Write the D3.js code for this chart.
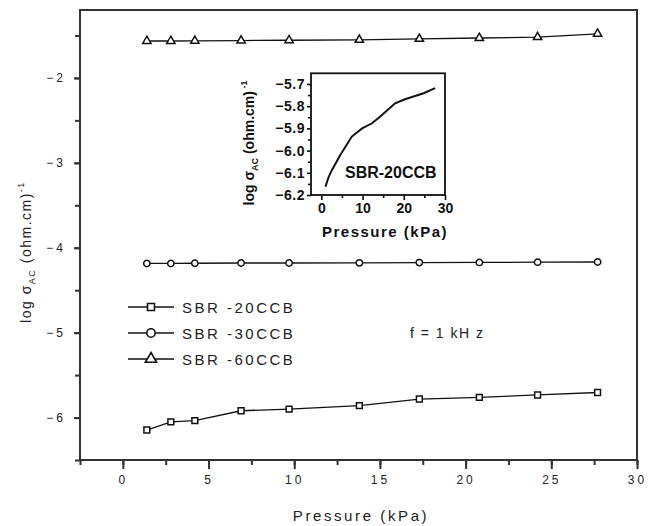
<!DOCTYPE html>
<html>
<head>
<meta charset="utf-8">
<script src="https://cdn.jsdelivr.net/npm/d3@7"></script>
<style>
  body { margin: 0; background: #fff; }
  svg { display: block; font-family: "Liberation Sans", Arial, sans-serif; }
</style>
</head>
<body>
<svg id="chart" width="649" height="526"></svg>
<script>
// ---- data ----
const pressure = [1.4, 2.8, 4.2, 6.9, 9.7, 13.8, 17.3, 20.8, 24.2, 27.7];
const sbr20 = [-6.147, -6.05, -6.037, -5.92, -5.90, -5.86, -5.782, -5.762, -5.734, -5.705];
const sbr30 = [-4.185, -4.185, -4.183, -4.18, -4.18, -4.178, -4.175, -4.173, -4.17, -4.168];
const sbr60 = [-1.565, -1.565, -1.563, -1.56, -1.556, -1.552, -1.54, -1.53, -1.52, -1.48];
const seriesNames = ["SBR -20CCB", "SBR -30CCB", "SBR -60CCB"];
const xTicks = [0, 5, 10, 15, 20, 25, 30];
const yTicks = [-6, -5, -4, -3, -2];
const insetP = [1.0, 1.8, 2.6, 4.6, 7.4, 9.9, 12.3, 14.3, 17.9, 20.3, 24.8, 27.6];
const insetS = [-6.163, -6.118, -6.087, -6.02, -5.937, -5.90, -5.877, -5.847, -5.787, -5.769, -5.742, -5.719];
const insetXTicks = [0, 10, 20, 30];
const insetYTicks = [-6.2, -6.1, -6.0, -5.9, -5.8, -5.7];

const svg = d3.select("#chart");
const ink = "#222";

// ---- main scales ----
const x = d3.scaleLinear().domain([-2.5, 30]).range([80, 637]);
const y = d3.scaleLinear().domain([-6.5, -1.2]).range([460, 10]);

// frame
svg.append("rect").attr("x", x.range()[0]).attr("y", y.range()[1])
  .attr("width", x.range()[1] - x.range()[0]).attr("height", y.range()[0] - y.range()[1])
  .attr("fill", "none").attr("stroke", "#333").attr("stroke-width", 2);

// x axis
const xMinor = d3.range(-2.5, 30.01, 2.5);
const gx = svg.append("g").attr("transform", `translate(0,${y.range()[0]})`);
gx.call(d3.axisBottom(x).tickValues(xMinor).tickSize(5).tickFormat(""));
gx.append("g").call(d3.axisBottom(x).tickValues(xTicks).tickSize(9).tickPadding(6).tickFormat(d3.format("d")));
gx.selectAll(".domain").remove();
gx.selectAll("line").attr("stroke", "#333").attr("stroke-width", 2);
gx.selectAll("text").attr("fill", ink).attr("font-size", 12).attr("letter-spacing", "3px")
  .attr("font-family", "Liberation Sans, Arial, sans-serif");

// y axis
const yMinor = d3.range(-6.5, -1.49, 0.5);
const gy = svg.append("g").attr("transform", `translate(${x.range()[0]},0)`);
gy.call(d3.axisLeft(y).tickValues(yMinor).tickSize(5).tickFormat(""));
gy.append("g").call(d3.axisLeft(y).tickValues(yTicks).tickSize(6).tickPadding(8).tickFormat(d3.format("d")));
gy.selectAll(".domain").remove();
gy.selectAll("line").attr("stroke", "#333").attr("stroke-width", 2);
gy.selectAll("text").attr("fill", ink).attr("font-size", 12).attr("letter-spacing", "3px")
  .attr("font-family", "Liberation Sans, Arial, sans-serif");

// axis titles
svg.append("text").attr("x", 361).attr("y", 521).attr("text-anchor", "middle")
  .attr("font-size", 15).attr("letter-spacing", "2.6px").attr("fill", ink).text("Pressure (kPa)");

const yl = svg.append("text").attr("transform", "translate(31,252) rotate(-90)")
  .attr("text-anchor", "middle").attr("font-size", 14).attr("letter-spacing", "1.5px").attr("fill", ink);
yl.append("tspan").text("log σ");
yl.append("tspan").attr("font-size", 9).attr("baseline-shift", "-4").text("AC");
yl.append("tspan").text(" (ohm.cm)");
yl.append("tspan").attr("font-size", 9).attr("baseline-shift", "7").text("-1");

// series
const series = [sbr20, sbr30, sbr60];
const symbols = [d3.symbolSquare, d3.symbolCircle, d3.symbolTriangle];
const symSizes = [34, 32, 30];
const line = d3.line().x(d => x(d[0])).y(d => y(d[1]));
series.forEach((vals, i) => {
  const pts = pressure.map((p, j) => [p, vals[j]]);
  svg.append("path").attr("d", line(pts)).attr("fill", "none")
    .attr("stroke", "#111").attr("stroke-width", 1.3);
  svg.selectAll(null).data(pts).enter().append("path")
    .attr("transform", d => `translate(${x(d[0])},${y(d[1])})`)
    .attr("d", d3.symbol().type(symbols[i]).size(symSizes[i]))
    .attr("fill", "#fff").attr("stroke", "#111").attr("stroke-width", 1.5);
});

// legend
const legY = [307, 333, 359];
seriesNames.forEach((name, i) => {
  svg.append("line").attr("x1", 128).attr("x2", 174).attr("y1", legY[i]).attr("y2", legY[i])
    .attr("stroke", "#111").attr("stroke-width", 1.6);
  svg.append("path").attr("transform", `translate(151,${legY[i]})`)
    .attr("d", d3.symbol().type(symbols[i]).size([48, 55, 55][i]))
    .attr("fill", "#fff").attr("stroke", "#111").attr("stroke-width", 1.6);
  svg.append("text").attr("x", 182).attr("y", legY[i] + 5.5).attr("font-size", 15)
    .attr("letter-spacing", "2.5px").attr("fill", ink).text(name);
});
svg.append("text").attr("x", 410).attr("y", 338).attr("font-size", 14)
  .attr("letter-spacing", "1.5px").attr("fill", ink).text("f = 1 kH z");

// ---- inset ----
const ix = d3.scaleLinear().domain([-2.5, 30]).range([311, 445]);
const iy = d3.scaleLinear().domain([-6.2, -5.652]).range([195, 73.3]);

svg.append("rect").attr("x", ix.range()[0]).attr("y", iy.range()[1])
  .attr("width", ix.range()[1] - ix.range()[0]).attr("height", iy.range()[0] - iy.range()[1])
  .attr("fill", "#fff").attr("stroke", "#111").attr("stroke-width", 1.8);

const igx = svg.append("g").attr("transform", `translate(0,${iy.range()[0]})`);
igx.call(d3.axisBottom(ix).tickValues([5, 15, 25]).tickSize(3).tickFormat(""));
igx.append("g").call(d3.axisBottom(ix).tickValues(insetXTicks).tickSize(5).tickPadding(3).tickFormat(d3.format("d")));
igx.selectAll(".domain").remove();
igx.selectAll("line").attr("stroke", "#111").attr("stroke-width", 1.6);
igx.selectAll("text").attr("fill", "#111").attr("font-size", 14).attr("font-weight", "bold")
  .attr("font-family", "Liberation Sans, Arial, sans-serif");

const igy = svg.append("g").attr("transform", `translate(${ix.range()[0]},0)`);
igy.call(d3.axisLeft(iy).tickValues(d3.range(-6.15, -5.66, 0.1)).tickSize(3).tickFormat(""));
igy.append("g").call(d3.axisLeft(iy).tickValues(insetYTicks).tickSize(4).tickPadding(2).tickFormat(d3.format(".1f")));
igy.selectAll(".domain").remove();
igy.selectAll("line").attr("stroke", "#111").attr("stroke-width", 1.6);
igy.selectAll("text").attr("fill", "#111").attr("font-size", 14).attr("font-weight", "bold")
  .attr("font-family", "Liberation Sans, Arial, sans-serif").attr("letter-spacing", "0.5px");

svg.append("path").attr("d", d3.line().x(d => ix(d[0])).y(d => iy(d[1]))(insetP.map((p, j) => [p, insetS[j]])))
  .attr("fill", "none").attr("stroke", "#111").attr("stroke-width", 2);

svg.append("text").attr("x", 345).attr("y", 178).attr("font-size", 16).attr("font-weight", "bold")
  .attr("fill", "#111").text("SBR-20CCB");

svg.append("text").attr("x", 385).attr("y", 237).attr("text-anchor", "middle")
  .attr("font-size", 15).attr("font-weight", "bold").attr("letter-spacing", "1.5px")
  .attr("fill", "#111").text("Pressure (kPa)");

const iyl = svg.append("text").attr("transform", "translate(254,143) rotate(-90)")
  .attr("text-anchor", "middle").attr("font-size", 14).attr("font-weight", "bold").attr("fill", "#111");
iyl.append("tspan").text("log σ");
iyl.append("tspan").attr("font-size", 9).attr("baseline-shift", "-4").text("AC");
iyl.append("tspan").text(" (ohm.cm)");
iyl.append("tspan").attr("font-size", 9).attr("baseline-shift", "7").text(" -1");
</script>
</body>
</html>
